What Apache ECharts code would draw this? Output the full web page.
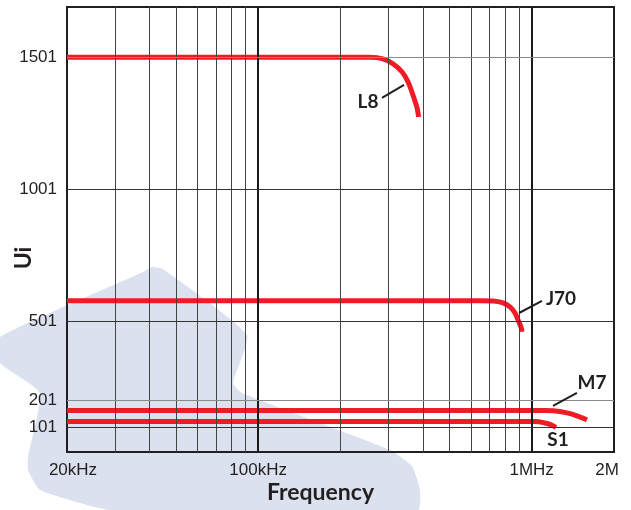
<!DOCTYPE html>
<html>
<head>
<meta charset="utf-8">
<script src="https://cdn.jsdelivr.net/npm/echarts@6/dist/echarts.min.js"></script>
<style>
  html, body { margin: 0; padding: 0; background: #fff; }
  #chart { width: 631px; height: 510px; }
</style>
</head>
<body>
<div id="chart"></div>
<script>
// curves: frequency in Hz, initial permeability Ui
var l8Freq = [20000, 200000, 256000, 286000, 311000, 336000, 353000, 368000, 381000, 386000]
var l8Ui = [1501, 1501, 1501, 1495, 1476, 1445, 1408, 1358, 1309, 1275]
var j70Freq = [20000, 500000, 647000, 722000, 786000, 833000, 869000, 891000, 914000, 922000]
var j70Ui = [579, 579, 579, 578, 571, 556, 533, 507, 480, 462]
var m7Freq = [20000, 900000, 1119000, 1197000, 1347000, 1464000, 1593000]
var m7Ui = [164, 164, 164, 163, 155, 144, 129]
var s1Freq = [20000, 800000, 1028000, 1119000, 1177000, 1227000]
var s1Ui = [122, 122, 122, 117, 110, 100]

// grid / ticks
var minorFreqs = [30000, 40000, 50000, 60000, 70000, 80000, 90000,
  200000, 300000, 400000, 500000, 600000, 700000, 800000, 900000]
var majorFreqs = [100000, 1000000]
var uiTicks = [101, 201, 501, 1001, 1501]
var uiTickColors = ['#333', '#8a8a8a', '#333', '#333', '#8a8a8a']
var freqTickLabels = { 20000: '{lo|20kHz}', 100000: '100kHz', 1000000: '1MHz', 2000000: '{hi|2M}' }

// curve names, where the name sits and its leader line (freq, Ui)
var curveNames = ['L8', 'J70', 'M7', 'S1']
var namePos = [[252000, 1332], [1280000, 586], [1662000, 269], [1248000, 53]]
var leaderFrom = [[283600, 1347], [899000, 533], [1197000, 182], null]
var leaderTo = [[341400, 1396], [1090800, 579], [1464000, 231], null]

var labelFont = "'Liberation Sans', Arial, sans-serif"
var titleFont = "Lato, 'Open Sans', sans-serif"

function pairs(xs, ys) {
  var out = []
  xs.forEach(function (x, i) { out.push([x, ys[i]]) })
  return out
}

var curves = [pairs(l8Freq, l8Ui), pairs(j70Freq, j70Ui), pairs(m7Freq, m7Ui), pairs(s1Freq, s1Ui)]

var chart = echarts.init(document.getElementById('chart'))

var gridLines = []
minorFreqs.forEach(function (f) {
  gridLines.push({ xAxis: f, lineStyle: { color: '#444', width: 1 } })
})
majorFreqs.forEach(function (f) {
  gridLines.push({ xAxis: f, lineStyle: { color: '#1a1a1a', width: 2 } })
})
uiTicks.forEach(function (u, i) {
  gridLines.push({ yAxis: u, lineStyle: { color: uiTickColors[i], width: 1 } })
})

var series = [{
  name: 'grid',
  type: 'line',
  data: [],
  z: 1,
  silent: true,
  markLine: {
    silent: true,
    symbol: ['none', 'none'],
    label: { show: false },
    lineStyle: { type: 'solid' },
    data: gridLines
  }
}]

curveNames.forEach(function (name, i) {
  var leader = []
  if (leaderFrom[i]) {
    leader.push([{ coord: leaderFrom[i] }, { coord: leaderTo[i] }])
  }
  series.push({
    name: name,
    type: 'line',
    data: curves[i],
    z: 3,
    smooth: 0.4,
    showSymbol: false,
    lineStyle: { color: '#ee1c25', width: 5, cap: 'butt' },
    markLine: {
      silent: true,
      symbol: ['none', 'none'],
      label: { show: false },
      lineStyle: { color: '#231f20', width: 2, type: 'solid' },
      data: leader
    },
    markPoint: {
      silent: true,
      symbol: 'rect',
      symbolSize: 1,
      itemStyle: { color: 'transparent' },
      label: {
        show: true,
        position: 'inside',
        formatter: name,
        color: '#231f20',
        fontFamily: titleFont,
        fontWeight: 'bold',
        fontSize: 19
      },
      data: [{ coord: namePos[i] }]
    }
  })
})

var option = {
  animation: false,
  backgroundColor: '#fff',
  graphic: [{
    type: 'polygon',
    z: -10,
    silent: true,
    shape: {
      smooth: 0.15,
      points: [[0, 337], [143, 272], [152, 267], [163, 269], [247, 335], [233, 383], [242, 393],
        [390, 450], [412, 466], [420, 490], [418, 510], [110, 510], [40, 490], [28, 470],
        [28, 457], [40, 393], [0, 363]]
    },
    style: { fill: '#dce1ef' }
  }],
  grid: {
    show: true,
    left: 67,
    right: 17,
    top: 7,
    bottom: 58,
    outerBoundsMode: 'none',
    containLabel: false,
    borderColor: '#231f20',
    borderWidth: 2,
    backgroundColor: 'transparent'
  },
  xAxis: {
    type: 'log',
    logBase: 10,
    min: 20000,
    max: 2000000,
    name: 'Frequency',
    nameLocation: 'middle',
    nameGap: 29,
    nameMoveOverlap: false,
    nameTextStyle: {
      fontFamily: titleFont,
      fontWeight: 'bold',
      fontSize: 23,
      color: '#231f20',
      padding: [0, 40, 0, 0]
    },
    axisLine: { show: false },
    axisTick: { show: false },
    splitLine: { show: false },
    axisLabel: {
      showMinLabel: true,
      showMaxLabel: true,
      margin: 10,
      fontFamily: labelFont,
      fontSize: 17,
      color: '#231f20',
      rich: {
        lo: { fontFamily: labelFont, fontSize: 17, color: '#231f20', padding: [0, 0, 0, 12] },
        hi: { fontFamily: labelFont, fontSize: 17, color: '#231f20', padding: [0, 14, 0, 0] }
      },
      formatter: function (v) {
        return freqTickLabels[Math.round(v)] || ''
      }
    }
  },
  yAxis: {
    type: 'value',
    min: 7,
    max: 1691,
    name: 'Ui',
    nameLocation: 'middle',
    nameRotate: 90,
    nameGap: 32,
    nameMoveOverlap: false,
    nameTextStyle: {
      fontFamily: titleFont,
      fontWeight: 'bold',
      fontSize: 23,
      color: '#231f20',
      padding: [0, 57, 0, 0]
    },
    axisLine: { show: false },
    axisTick: { show: false },
    splitLine: { show: false },
    axisLabel: {
      customValues: uiTicks,
      margin: 10,
      fontFamily: labelFont,
      fontSize: 17,
      color: '#231f20',
      formatter: function (v) {
        return String(Math.round(v))
      }
    }
  },
  series: series
}

chart.setOption(option)
</script>
</body>
</html>
